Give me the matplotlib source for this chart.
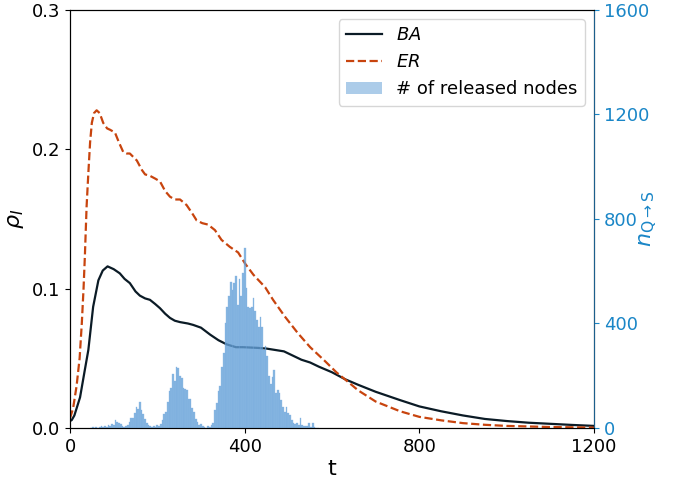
import numpy as np
import matplotlib
matplotlib.use('Agg')
import matplotlib.pyplot as plt
from matplotlib.patches import Patch

# rho_I(t) for BA network
t_ba = [0, 4, 10, 23, 33, 42, 53, 65, 75, 86, 100, 114, 125, 137, 150, 160, 172,
        183, 195, 206, 218, 229, 240, 252, 270, 282, 300, 321, 340, 359, 380, 396,
        430, 450, 470, 490, 510, 530, 550, 570, 600, 630, 660, 700, 756, 800, 850,
        900, 950, 1000, 1050, 1100, 1150, 1200]
rho_ba = [0.005, 0.0057, 0.009, 0.022, 0.040, 0.056, 0.087, 0.106, 0.113, 0.116,
          0.114, 0.111, 0.107, 0.104, 0.098, 0.095, 0.093, 0.092, 0.089, 0.086,
          0.082, 0.079, 0.077, 0.076, 0.075, 0.074, 0.072, 0.067, 0.063, 0.060,
          0.058, 0.058, 0.0575, 0.057, 0.056, 0.055, 0.052, 0.049, 0.047, 0.044,
          0.040, 0.035, 0.031, 0.026, 0.020, 0.0155, 0.012, 0.009, 0.0065, 0.005,
          0.0038, 0.003, 0.0022, 0.0015]

# rho_I(t) for ER network
t_er = [0, 7, 15, 22, 27, 31, 34, 38, 42, 46, 50, 55, 61, 68, 76, 85, 92, 103, 112,
        122, 130, 137, 153, 165, 172, 183, 195, 206, 218, 229, 240, 252, 267, 280,
        290, 303, 316, 332, 347, 366, 385, 401, 420, 447, 465, 492, 522, 550, 584,
        610, 641, 660, 700, 756, 800, 850, 900, 950, 1000, 1100, 1200]
rho_er = [0.007, 0.014, 0.030, 0.050, 0.075, 0.100, 0.123, 0.159, 0.183, 0.205,
          0.219, 0.226, 0.228, 0.226, 0.219, 0.215, 0.214, 0.212, 0.205, 0.198,
          0.197, 0.197, 0.192, 0.185, 0.182, 0.181, 0.179, 0.177, 0.170, 0.166,
          0.164, 0.164, 0.160, 0.154, 0.149, 0.147, 0.146, 0.142, 0.135, 0.130,
          0.126, 0.118, 0.110, 0.101, 0.092, 0.080, 0.068, 0.058, 0.048, 0.040,
          0.032, 0.027, 0.019, 0.012, 0.008, 0.0055, 0.0035, 0.0023, 0.0015,
          0.0007, 0.0003]

# number of released nodes (Q -> S), bins of 4 time steps starting at t=48
bin_start = 48
bin_width = 4
released = [0, 3, 0, 5, 0, 4, 6, 3, 9, 5, 11, 8, 15, 13, 30, 22, 18, 14, 8, 3,
            6, 12, 24, 40, 38, 58, 80, 72, 100, 70, 52, 34, 20, 12, 6, 3, 8, 4,
            10, 6, 16, 30, 54, 62, 100, 140, 152, 205, 178, 235, 228, 200, 190,
            152, 148, 146, 110, 112, 78, 60, 36, 24, 12, 14, 8, 4, 0, 6, 3, 10,
            20, 69, 94, 140, 160, 235, 286, 400, 465, 505, 560, 530, 555, 580,
            470, 570, 505, 595, 690, 535, 465, 458, 462, 496, 446, 412, 388, 426,
            388, 300, 312, 275, 200, 170, 196, 222, 135, 145, 133, 107, 82, 63,
            80, 56, 50, 31, 18, 16, 18, 12, 37, 10, 8, 6, 8, 18, 4, 18, 3, 0, 0]

blue = '#1a86c7'
t_bins = bin_start + bin_width * np.arange(len(released))

fig = plt.figure(figsize=(6.81, 4.78), dpi=100)
ax = fig.add_axes([0.1028, 0.1046, 0.7694, 0.8745])

l1, = ax.plot(t_ba, rho_ba, color='#0b1b26', lw=1.6, label='$BA$')
l2, = ax.plot(t_er, rho_er, color='#c8440e', lw=1.6, ls='--', label='$ER$')
ax.set_xlim(0, 1200)
ax.set_ylim(0, 0.3)
ax.set_xticks([0, 400, 800, 1200])
ax.set_yticks([0.0, 0.1, 0.2, 0.3])
ax.tick_params(labelsize=13)
ax.set_xlabel('t', fontsize=16, labelpad=2)
ax.set_ylabel(r'$\rho_I$', fontsize=16)

ax2 = ax.twinx()
ax2.bar(t_bins, released, width=bin_width, color='#5b9bd5', alpha=0.72,
        edgecolor='#7aade0', lw=0.3)
ax2.set_ylim(0, 1600)
ax2.set_yticks([0, 400, 800, 1200, 1600])
ax2.tick_params(axis='y', labelsize=13, colors=blue)
ax2.spines['right'].set_color('#1c5f8c')
ax2.set_ylabel(r'$n_{\rm Q\to S}$', fontsize=16, color=blue, labelpad=-8)

hist_patch = Patch(facecolor='#5b9bd5', alpha=0.5, lw=0)
ax2.legend([l1, l2, hist_patch], ['$BA$', '$ER$', '# of released nodes'],
           loc='upper right', fontsize=13)

fig.savefig('out.png', dpi=100)
